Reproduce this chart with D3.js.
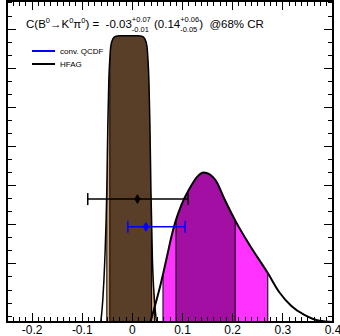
<!DOCTYPE html>
<html>
<head>
<meta charset="utf-8">
<script src="https://d3js.org/d3.v7.min.js"></script>
<style>
  body { margin: 0; background: #fff; }
  svg { font-family: "Liberation Sans", Arial, sans-serif; }
  .frame { fill: none; stroke: #000; stroke-width: 2px; }
  .tick { stroke: #000; stroke-width: 1px; shape-rendering: crispEdges; }
  .curve { fill: none; stroke: #000; stroke-width: 2px; }
  .bound { stroke: #000; stroke-width: 1px; }
</style>
</head>
<body>
<svg id="chart" width="340" height="336"></svg>
<script>
// x axis
const xTickValues = [-0.2, -0.1, 0, 0.1, 0.2, 0.3, 0.4];
const xTickLabels = ["-0.2", "-0.1", "0", "0.1", "0.2", "0.3", "0.4"];

// y axis (no labels, arbitrary density units)
const yMajorValues = [1.48, 2.48, 3.48, 4.48, 5.48, 6.48, 7.48];

// QCDF-like distribution (magenta)
const magX = [0.036, 0.046, 0.054, 0.062, 0.070, 0.078, 0.086, 0.098, 0.114, 0.130,
              0.142, 0.154, 0.166, 0.184, 0.206, 0.234, 0.270, 0.293, 0.317, 0.343, 0.373, 0.401];
const magY = [0, 0.46, 0.84, 1.27, 1.73, 2.19, 2.57, 3.00, 3.41, 3.72,
              3.82, 3.77, 3.62, 3.13, 2.57, 1.96, 1.25, 0.76, 0.41, 0.18, 0.03, 0];
const mag68 = [0.087, 0.205];
const mag95 = [0.061, 0.270];

// HFAG-like distribution (brown)
const brnX = [-0.063, -0.059, -0.055, -0.051, -0.049, -0.047, -0.045, -0.043, -0.039, -0.033,
              -0.025, 0.011, 0.019, 0.025, 0.029, 0.031, 0.033, 0.035, 0.037, 0.040, 0.044, 0.048];
const brnY = [0, 0.56, 1.58, 3.36, 5.02, 6.16, 6.72, 7.05, 7.23, 7.30,
              7.31, 7.31, 7.30, 7.23, 7.05, 6.72, 6.16, 5.02, 3.36, 1.58, 0.56, 0];
const brn68 = [-0.045, 0.038];
const brn95 = [-0.051, 0.044];

// error bars
const barNames = ["HFAG", "conv. QCDF"];
const barCenter = [0.010, 0.027];
const barLow = [-0.089, -0.009];
const barHigh = [0.111, 0.105];
const barY = [3.14, 2.43];
const barColors = ["#000000", "#0000ff"];

const svg = d3.select("#chart");
const pLeft = 7, pRight = 333, pTop = 1, pBottom = 322;

const x = d3.scaleLinear().domain([-0.25, 0.4]).range([pLeft, pRight]);
const y = d3.scaleLinear().domain([0, 8.2]).range([pBottom, pTop]);

const plot = svg.append("g");
const defs = svg.append("defs");
defs.append("clipPath").attr("id", "plotclip").append("rect")
  .attr("x", pLeft).attr("y", pTop).attr("width", pRight - pLeft).attr("height", pBottom - pTop);
const inner = plot.append("g").attr("clip-path", "url(#plotclip)");

function drawDist(id, xs, ys, r95, r68, c95, c68) {
  const pts = xs.map((v, i) => [v, ys[i]]);
  const area = d3.area().x(d => x(d[0])).y0(y(0)).y1(d => y(d[1])).curve(d3.curveMonotoneX);
  const line = d3.line().x(d => x(d[0])).y(d => y(d[1])).curve(d3.curveMonotoneX);

  defs.append("clipPath").attr("id", id).append("path").attr("d", area(pts));
  const g = inner.append("g").attr("clip-path", "url(#" + id + ")");
  g.append("rect").attr("x", x(r95[0])).attr("width", x(r95[1]) - x(r95[0]))
    .attr("y", pTop).attr("height", pBottom - pTop).attr("fill", c95);
  g.append("rect").attr("x", x(r68[0])).attr("width", x(r68[1]) - x(r68[0]))
    .attr("y", pTop).attr("height", pBottom - pTop).attr("fill", c68);
  [r95[0], r68[0], r68[1], r95[1]].forEach(v => {
    g.append("line").attr("class", "bound")
      .attr("x1", x(v)).attr("x2", x(v)).attr("y1", pTop).attr("y2", pBottom);
  });
  return () => inner.append("path").attr("class", "curve").attr("d", line(pts));
}

const magLine = drawDist("magclip", magX, magY, mag95, mag68, "#ff33ff", "#a30fa3");
const brnLine = drawDist("brnclip", brnX, brnY, brn95, brn68, "#d2a070", "#5a3f28");
magLine();
brnLine().style("stroke-width", "1.5px");

// error bars
barNames.forEach((n, i) => {
  const g = plot.append("g").attr("stroke", barColors[i]).attr("fill", barColors[i]);
  const yy = y(barY[i]);
  g.append("line").attr("x1", x(barLow[i])).attr("x2", x(barHigh[i])).attr("y1", yy).attr("y2", yy)
    .attr("stroke-width", 1.5);
  [barLow[i], barHigh[i]].forEach(v => {
    g.append("line").attr("x1", x(v)).attr("x2", x(v)).attr("y1", yy - 6).attr("y2", yy + 6)
      .attr("stroke-width", 1.5);
  });
  const cx = x(barCenter[i]);
  g.append("path").attr("stroke", "none")
    .attr("d", `M${cx},${yy - 5}L${cx + 3.2},${yy}L${cx},${yy + 5}L${cx - 3.2},${yy}Z`);
});

// frame
plot.append("rect").attr("class", "frame")
  .attr("x", pLeft).attr("y", pTop).attr("width", pRight - pLeft).attr("height", pBottom - pTop);

// x ticks (bottom and top)
const xMinor = d3.range(-0.25, 0.4001, 0.0125);
const ticks = plot.append("g");
xMinor.forEach(v => {
  const major = xTickValues.some(t => Math.abs(t - v) < 1e-6);
  const len = major ? 9 : 5;
  ticks.append("line").attr("class", "tick").attr("x1", x(v)).attr("x2", x(v)).attr("y1", pBottom).attr("y2", pBottom - len);
  ticks.append("line").attr("class", "tick").attr("x1", x(v)).attr("x2", x(v)).attr("y1", pTop).attr("y2", pTop + len);
});
xTickValues.forEach((v, i) => {
  plot.append("text").attr("x", x(v)).attr("y", 334).attr("text-anchor", "middle")
    .attr("font-size", 12).text(xTickLabels[i]);
});

// y ticks (left and right)
const yMinor = d3.range(0.15, 8.2, 1 / 3);
yMinor.forEach(v => {
  const major = yMajorValues.some(t => Math.abs(t - v) < 0.01);
  const len = major ? 9 : 5;
  ticks.append("line").attr("class", "tick").attr("x1", pLeft).attr("x2", pLeft + len).attr("y1", y(v)).attr("y2", y(v));
  ticks.append("line").attr("class", "tick").attr("x1", pRight).attr("x2", pRight - len).attr("y1", y(v)).attr("y2", y(v));
});

// legend
const legNames = ["conv. QCDF", "HFAG"];
const legColors = ["#0000ff", "#000000"];
legNames.forEach((n, i) => {
  const ly = 51 + i * 13;
  plot.append("line").attr("x1", 32).attr("x2", 55).attr("y1", ly).attr("y2", ly)
    .attr("stroke", legColors[i]).attr("stroke-width", 2);
  plot.append("text").attr("x", 60).attr("y", ly + 3).attr("font-size", 8).text(n);
});

// title, built piece by piece
const pieces = [
  ["C(B", "n"], ["0", "sup"], ["\u2192K", "n"], ["0", "sup"], ["\u03c0", "n"], ["0", "sup"],
  [") =  -0.03", "n"], [["+0.07", "-0.01"], "ss"], [" (0.14", "n"], [["+0.06", "-0.05"], "ss"],
  [")  @68% CR", "n"]
];
const title = plot.append("g");
let tx = 26;
const base = 28;
pieces.forEach(([t, kind]) => {
  if (kind === "n") {
    const el = title.append("text").attr("x", tx).attr("y", base).attr("font-size", 11.5)
      .style("white-space", "pre").text(t);
    tx += el.node().getComputedTextLength();
  } else if (kind === "sup") {
    const el = title.append("text").attr("x", tx).attr("y", base - 5).attr("font-size", 7.5).text(t);
    tx += el.node().getComputedTextLength();
  } else {
    const a = title.append("text").attr("x", tx).attr("y", base - 6).attr("font-size", 7.5).text(t[0]);
    const b = title.append("text").attr("x", tx).attr("y", base + 4).attr("font-size", 7.5).text(t[1]);
    tx += Math.max(a.node().getComputedTextLength(), b.node().getComputedTextLength());
  }
});
</script>
</body>
</html>
